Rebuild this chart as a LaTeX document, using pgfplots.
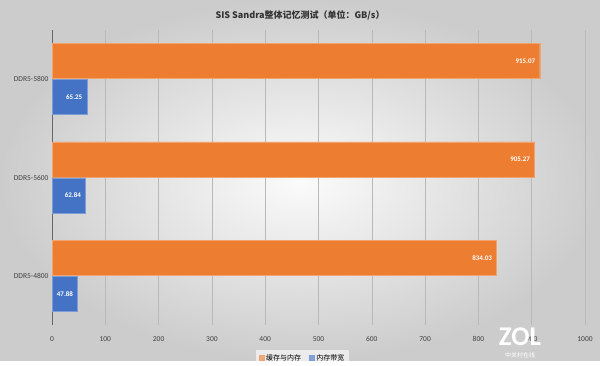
\documentclass[border=0pt]{standalone}
\usepackage{pgfplots}
\pgfplotsset{compat=1.18}
\usepackage{fontspec}
\setmainfont{Carlito}
\newfontfamily\cjk{Noto Sans CJK SC}
\definecolor{orng}{HTML}{ED7D31}
\definecolor{blu}{HTML}{4472C4}
\begin{document}
\begin{tikzpicture}[x=1pt,y=1pt]
\shade[inner color=white!97!gray, outer color=gray!40] (0,0) rectangle (600,361);
\node[font=\cjk\bfseries\fontsize{9}{10}\selectfont, text=black!80] at (300,346) {SIS Sandra整体记忆测试（单位：GB/s）};
\begin{axis}[
  at={(52pt,36pt)}, anchor=south west,
  scale only axis, width=533pt, height=295pt,
  xmin=0, xmax=1000, ymin=-0.5, ymax=2.5,
  xtick={0,100,...,1000},
  ytick={0,1,2},
  yticklabels={DDR5-4800,DDR5-5600,DDR5-5800},
  /pgf/number format/assume math mode=true,
  /pgf/number format/set thousands separator={},
  ticklabel style={font=\fontsize{7.5}{8}\selectfont, text=black!75},
  xticklabel style={yshift=-8pt},
  major tick length=0pt,
  axis lines=left,
  axis line style={-},
  x axis line style={draw=none},
  y axis line style={draw=black!60, line width=0.8pt},
  xmajorgrids, grid style={draw=gray!55, line width=0.5pt},
  xbar, bar width=35pt,
  nodes near coords,
  every node near coord/.append style={anchor=east, text=white, font=\bfseries\fontsize{7}{8}\selectfont, xshift=-1pt},
  legend style={at={(0.47,-0.085)}, anchor=north, legend columns=2, draw=none, fill=white, fill opacity=0.6, text opacity=1, font=\cjk\fontsize{7}{8}\selectfont, /tikz/every even column/.append style={column sep=6pt}},
  legend image code/.code={\fill[#1] (0pt,-2.5pt) rectangle (5pt,2.5pt);},
]
\addplot[fill=orng, draw=orng!70!white, bar shift=18pt] coordinates {(834.03,0) (905.27,1) (915.07,2)};
\addplot[fill=blu, draw=blu!70!white, bar shift=-18pt] coordinates {(47.88,0) (62.84,1) (65.25,2)};
\legend{缓存与内存,内存带宽}
\end{axis}
\node[font=\bfseries\fontsize{27}{27}\selectfont, text=white] at (520,24) {ZOL};
\node[font=\cjk\fontsize{6}{6}\selectfont, text=white] at (520,6) {中关村在线};
\end{tikzpicture}
\end{document}
